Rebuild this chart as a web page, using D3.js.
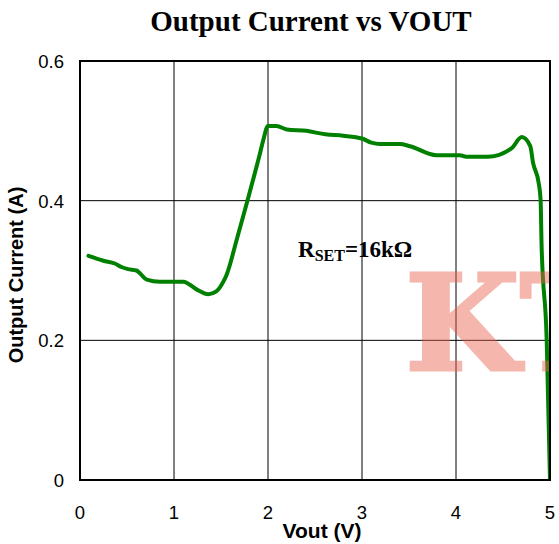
<!DOCTYPE html>
<html>
<head>
<meta charset="utf-8">
<title>Output Current vs VOUT</title>
<script src="https://d3js.org/d3.v7.min.js"></script>
<style>
	body { margin: 0; background: #fff; }
	.tick-label { font-family: "Liberation Sans", Arial, sans-serif; font-size: 18.5px; }
	.axis-title { font-family: "Liberation Sans", Arial, sans-serif; font-size: 21px; font-weight: bold; }
</style>
</head>
<body>
<script>

// curve: Vout (V) vs output current (A)
var vout = [0.09, 0.25, 0.37, 0.44, 0.51, 0.6, 0.71, 0.85, 1.1, 1.24, 1.365, 1.45, 1.525, 1.56, 1.667, 1.755, 1.915, 1.95, 2.0, 2.09, 2.2, 2.41, 2.61, 2.8, 3.0, 3.1, 3.19, 3.4, 3.51, 3.79, 4.04, 4.11, 4.34, 4.59, 4.7, 4.79, 4.82, 4.88, 4.9, 4.91, 4.965, 5.0]
var current = [0.321, 0.314, 0.31, 0.305, 0.302, 0.3, 0.287, 0.284, 0.284, 0.273, 0.266, 0.27, 0.284, 0.294, 0.344, 0.387, 0.468, 0.487, 0.507, 0.507, 0.502, 0.5, 0.495, 0.493, 0.489, 0.483, 0.481, 0.481, 0.478, 0.465, 0.465, 0.463, 0.463, 0.475, 0.491, 0.478, 0.454, 0.425, 0.401, 0.339, 0.2, 0.0]

var xTicks = [0, 1, 2, 3, 4, 5]
var yTicks = [0, 0.2, 0.4, 0.6]

var width = 559, height = 544
var margin = {top: 61, left: 80, bottom: 64, right: 9}

var svg = d3.select("body").append("svg")
	.attr("width", width)
	.attr("height", height)

var x = d3.scaleLinear().domain([0, 5]).range([margin.left, width - margin.right])
var y = d3.scaleLinear().domain([0, 0.6]).range([height - margin.bottom, margin.top])

svg.append("defs").append("clipPath").attr("id", "plot")
	.append("rect")
	.attr("x", x(0)).attr("y", y(0.6))
	.attr("width", x(5) - x(0)).attr("height", y(0) - y(0.6))

//grid lines
svg.append("g").selectAll("line").data(xTicks.slice(1, -1)).enter().append("line")
	.attr("x1", function(d) { return x(d) }).attr("x2", function(d) { return x(d) })
	.attr("y1", y(0)).attr("y2", y(0.6))
	.attr("stroke", "#000").attr("stroke-width", 1)
svg.append("g").selectAll("line").data(yTicks.slice(1, -1)).enter().append("line")
	.attr("x1", x(0)).attr("x2", x(5))
	.attr("y1", function(d) { return y(d) }).attr("y2", function(d) { return y(d) })
	.attr("stroke", "#000").attr("stroke-width", 1)

//the curve
var line = d3.line()
	.x(function(d) { return x(d[0]) })
	.y(function(d) { return y(d[1]) })
	.curve(d3.curveMonotoneX)

svg.append("path")
	.datum(d3.zip(vout, current))
	.attr("d", line)
	.attr("fill", "none")
	.attr("stroke", "#008000")
	.attr("stroke-width", 4)
	.attr("stroke-linejoin", "round")
	.attr("stroke-linecap", "round")
	.attr("clip-path", "url(#plot)")

//watermark, cut by the plot frame like in the original
svg.append("g")
	.attr("opacity", 0.45)
	.attr("clip-path", "url(#plot)")
	.append("text")
	.attr("x", 405).attr("y", 370)
	.attr("font-family", "DejaVu Serif")
	.attr("font-weight", "bold")
	.attr("font-size", 132)
	.attr("fill", "#e8604c")
	.attr("stroke", "#e8604c")
	.attr("stroke-width", 3)
	.attr("stroke-linejoin", "miter")
	.text("KT")

//plot border
svg.append("rect")
	.attr("x", x(0)).attr("y", y(0.6))
	.attr("width", x(5) - x(0)).attr("height", y(0) - y(0.6))
	.attr("fill", "none").attr("stroke", "#000").attr("stroke-width", 2)

//axes labels
svg.append("g").selectAll("text").data(xTicks).enter().append("text")
	.attr("class", "tick-label")
	.attr("x", function(d) { return x(d) })
	.attr("y", 519)
	.attr("text-anchor", "middle")
	.text(function(d) { return d })

svg.append("g").selectAll("text").data(yTicks).enter().append("text")
	.attr("class", "tick-label")
	.attr("x", 64)
	.attr("y", function(d) { return y(d) + 7 })
	.attr("text-anchor", "end")
	.text(function(d) { return d === 0 ? "0" : d.toFixed(1) })

svg.append("text")
	.attr("class", "axis-title")
	.attr("x", 322).attr("y", 538)
	.attr("text-anchor", "middle")
	.text("Vout (V)")

svg.append("text")
	.attr("class", "axis-title")
	.attr("transform", "translate(23,275) rotate(-90)")
	.attr("text-anchor", "middle")
	.style("font-size", "20px")
	.text("Output Current (A)")

//title
svg.append("text")
	.attr("x", 311).attr("y", 31)
	.attr("text-anchor", "middle")
	.attr("font-family", "Liberation Serif")
	.attr("font-weight", "bold")
	.attr("font-size", 29)
	.text("Output Current vs VOUT")

//R_SET note
var note = svg.append("text")
	.attr("x", 298).attr("y", 257)
	.attr("font-family", "Liberation Serif")
	.attr("font-weight", "bold")
	.attr("font-size", 23)
note.append("tspan").text("R")
note.append("tspan").attr("font-size", 16).attr("dy", 4).text("SET")
note.append("tspan").attr("dy", -4).text("=16kΩ")

</script>
</body>
</html>
